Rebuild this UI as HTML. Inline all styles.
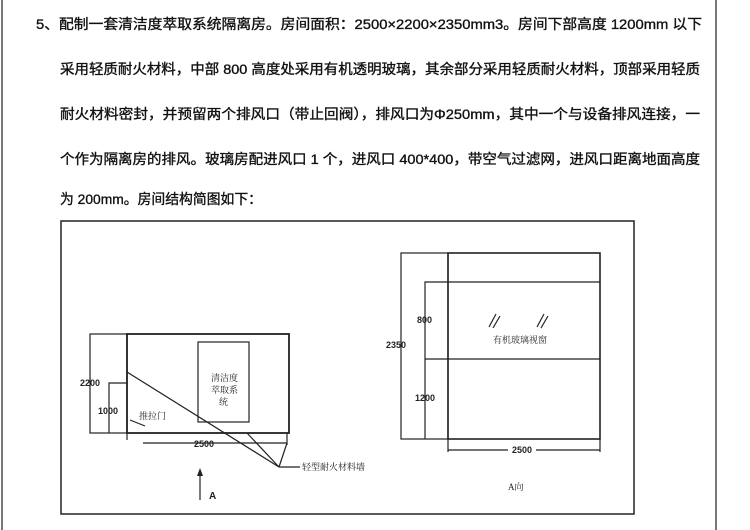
<!DOCTYPE html>
<html><head><meta charset="utf-8"><style>
html,body{margin:0;padding:0;background:#fff;}
svg{display:block;}
.t{font-family:"Liberation Sans","Noto Sans CJK SC",sans-serif;font-size:14px;fill:#111;stroke:#111;stroke-width:0.35;}
.s{font-family:"Liberation Serif","Noto Serif CJK SC",serif;font-size:9px;fill:#222;}
.d{font-family:"Liberation Sans",sans-serif;font-size:9px;fill:#222;font-weight:bold;}
</style></head><body>
<svg width="750" height="530" viewBox="0 0 750 530" xmlns="http://www.w3.org/2000/svg">
<line x1="2" y1="0" x2="2" y2="530" stroke="#777" stroke-width="2"/>
<line x1="716" y1="0" x2="716" y2="530" stroke="#777" stroke-width="2"/>
<text class="t" x="36" y="29" textLength="666" lengthAdjust="spacingAndGlyphs">5、配制一套清洁度萃取系统隔离房。房间面积：2500×2200×2350mm3。房间下部高度 1200mm 以下</text>
<text class="t" x="60" y="74" textLength="640" lengthAdjust="spacingAndGlyphs">采用轻质耐火材料，中部 800 高度处采用有机透明玻璃，其余部分采用轻质耐火材料，顶部采用轻质</text>
<text class="t" x="60" y="119" textLength="640" lengthAdjust="spacingAndGlyphs">耐火材料密封，并预留两个排风口（带止回阀），排风口为Φ250mm，其中一个与设备排风连接，一</text>
<text class="t" x="60" y="164" textLength="640" lengthAdjust="spacingAndGlyphs">个作为隔离房的排风。玻璃房配进风口 1 个，进风口 400*400，带空气过滤网，进风口距离地面高度</text>
<text class="t" x="60" y="204" textLength="202" lengthAdjust="spacingAndGlyphs">为 200mm。房间结构简图如下：</text>

<g fill="none" stroke="#222" stroke-width="1.2">
<rect x="61" y="221" width="573" height="293" stroke-width="1.5"/>
<rect x="90" y="334" width="37" height="99"/>
<rect x="127" y="334" width="162" height="99" stroke-width="1.8"/>
<rect x="198" y="342" width="51" height="80"/>
<polyline points="109,433 109,383 127,383"/>
<line x1="127" y1="372" x2="279" y2="467"/>
<line x1="247" y1="433" x2="279" y2="467"/>
<line x1="287" y1="443" x2="279" y2="467"/>
<line x1="279" y1="467" x2="300" y2="467"/>
<line x1="127" y1="433" x2="127" y2="445"/>
<line x1="287" y1="433" x2="287" y2="445"/>
<line x1="127" y1="443" x2="287" y2="443"/>
<line x1="130" y1="420" x2="145" y2="426"/>
<line x1="200" y1="500" x2="200" y2="472"/>
<rect x="401" y="253" width="47" height="186"/>
<rect x="448" y="253" width="152" height="186" stroke-width="1.6"/>
<polyline points="425,439 425,282 600,282"/>
<line x1="425" y1="359" x2="600" y2="359"/>
<line x1="448" y1="439" x2="448" y2="452"/>
<line x1="600" y1="439" x2="600" y2="452"/>
<line x1="448" y1="450" x2="600" y2="450"/>
<line x1="489" y1="327" x2="496" y2="314"/><line x1="493" y1="328" x2="500" y2="316"/>
<line x1="537" y1="327" x2="544" y2="314"/><line x1="541" y1="328" x2="548" y2="316"/>
</g>
<polygon points="200,468 197,476 203,476" fill="#222"/>
<rect x="115" y="440" width="28" height="8" fill="#fff"/>
<rect x="508" y="446" width="28" height="8" fill="#fff"/>
<text class="d" x="194" y="447">2500</text>
<text class="d" x="512" y="453">2500</text>
<text class="d" x="80" y="386">2200</text>
<text class="d" x="98" y="414">1000</text>
<text class="d" x="386" y="348">2350</text>
<text class="d" x="417" y="323">800</text>
<text class="d" x="415" y="401">1200</text>
<text class="d" x="209" y="499" style="font-size:10px">A</text>
<text class="s" x="211" y="381">清洁度</text>
<text class="s" x="211" y="393">萃取系</text>
<text class="s" x="219" y="405">统</text>
<text class="s" x="139" y="419">推拉门</text>
<text class="s" x="302" y="470">轻型耐火材料墙</text>
<text class="s" x="493" y="343">有机玻璃视窗</text>
<text class="s" x="508" y="490">A向</text>
</svg>
</body></html>
